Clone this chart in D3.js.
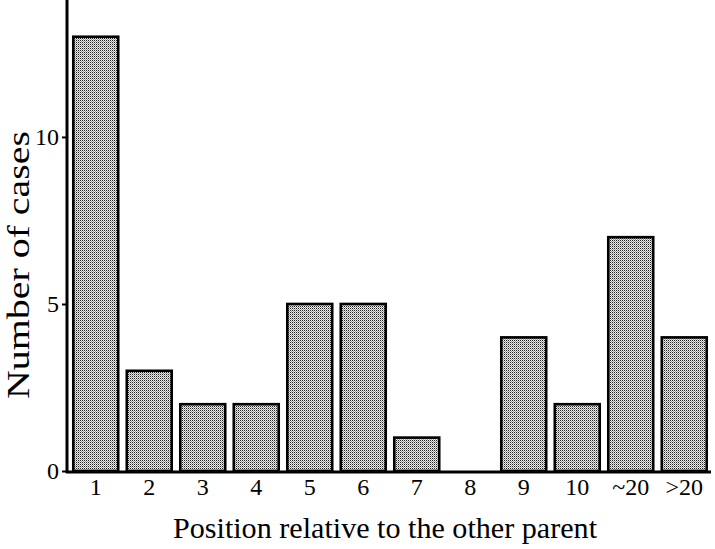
<!DOCTYPE html>
<html>
<head>
<meta charset="utf-8">
<script src="https://cdn.jsdelivr.net/npm/d3@7"></script>
<style>
  body { margin: 0; background: #fff; }
  text { font-family: "Liberation Serif", "DejaVu Serif", serif; fill: #000; }
</style>
</head>
<body>
<svg id="chart" width="715" height="549"></svg>
<script>
// positions relative to the other parent, and number of cases for each
var categories = ["1", "2", "3", "4", "5", "6", "7", "8", "9", "10", "~20", ">20"];
var cases = [13, 3, 2, 2, 5, 5, 1, 0, 4, 2, 7, 4];
var yTicks = [0, 5, 10];

var svg = d3.select("#chart");

var x = d3.scaleBand()
    .domain(categories)
    .range([69, 711])
    .paddingInner(0.16)
    .paddingOuter(0.08);

var y = d3.scaleLinear()
    .domain([0, 14.1])
    .range([471, 0]);

// halftone-like fill for the bars
var defs = svg.append("defs");
var pat = defs.append("pattern")
    .attr("id", "dots")
    .attr("width", 2)
    .attr("height", 2)
    .attr("patternUnits", "userSpaceOnUse");
pat.append("rect").attr("width", 2).attr("height", 2).attr("fill", "#ececec");
pat.append("rect").attr("width", 1).attr("height", 1).attr("fill", "#222");
pat.append("rect").attr("x", 1).attr("y", 1).attr("width", 1).attr("height", 1).attr("fill", "#9a9a9a");

var data = categories.map(function (c, i) { return { cat: c, value: cases[i] }; });

svg.append("g").selectAll("rect")
    .data(data)
    .enter().append("rect")
    .attr("x", function (d) { return x(d.cat); })
    .attr("y", function (d) { return y(d.value); })
    .attr("width", x.bandwidth())
    .attr("height", function (d) { return y(0) - y(d.value); })
    .attr("fill", "url(#dots)")
    .attr("stroke", "#000")
    .attr("stroke-width", 2.6);

// y axis
var yAxis = d3.axisLeft(y)
    .tickValues(yTicks)
    .tickSize(5)
    .tickPadding(3);
var gy = svg.append("g")
    .attr("transform", "translate(67,0)")
    .call(yAxis);
gy.select(".domain").remove();
gy.selectAll(".tick line").attr("stroke", "#000").attr("stroke-width", 2);
gy.selectAll(".tick text")
    .style("font-size", "24px")
    .style("font-family", "Liberation Serif");
gy.append("line")
    .attr("x1", 0).attr("x2", 0)
    .attr("y1", 0).attr("y2", y(0) + 2)
    .attr("stroke", "#000")
    .attr("stroke-width", 3);

// x axis
var xAxis = d3.axisBottom(x)
    .tickSize(0)
    .tickPadding(7);
var gx = svg.append("g")
    .attr("transform", "translate(0," + y(0) + ")")
    .call(xAxis);
gx.select(".domain").remove();
gx.selectAll(".tick text")
    .style("font-size", "24px")
    .style("font-family", "Liberation Serif");
gx.append("line")
    .attr("x1", 66).attr("x2", 711)
    .attr("y1", 1).attr("y2", 1)
    .attr("stroke", "#000")
    .attr("stroke-width", 3);

// axis titles
svg.append("text")
    .attr("x", 385)
    .attr("y", 538)
    .attr("text-anchor", "middle")
    .attr("textLength", 424)
    .attr("lengthAdjust", "spacingAndGlyphs")
    .style("font-size", "30px")
    .text("Position relative to the other parent");

svg.append("text")
    .attr("transform", "translate(29,265) rotate(-90)")
    .attr("text-anchor", "middle")
    .attr("textLength", 268)
    .attr("lengthAdjust", "spacingAndGlyphs")
    .style("font-size", "31px")
    .text("Number of cases");
</script>
</body>
</html>
